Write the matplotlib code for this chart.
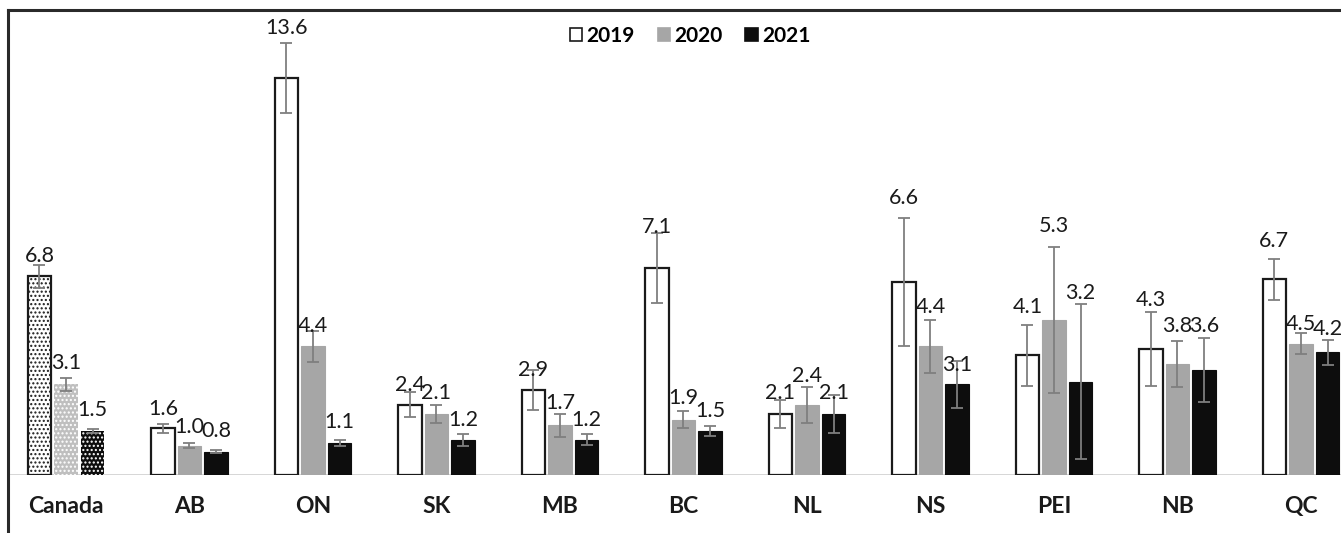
import numpy as np
import matplotlib
matplotlib.use("Agg")
import matplotlib.pyplot as plt
from matplotlib.patches import Patch
from matplotlib.lines import Line2D

plt.rcParams['font.family'] = ['Lato', 'DejaVu Sans']

# data
regions = ['Canada', 'AB', 'ON', 'SK', 'MB', 'BC', 'NL', 'NS', 'PEI', 'NB', 'QC']
years = ['2019', '2020', '2021']
vals_2019 = [6.8, 1.6, 13.6, 2.4, 2.9, 7.1, 2.1, 6.6, 4.1, 4.3, 6.7]
vals_2020 = [3.1, 1.0, 4.4, 2.1, 1.7, 1.9, 2.4, 4.4, 5.3, 3.8, 4.5]
vals_2021 = [1.5, 0.8, 1.1, 1.2, 1.2, 1.5, 2.1, 3.1, 3.2, 3.6, 4.2]
err_2019 = [0.4, 0.15, 1.2, 0.43, 0.68, 1.2, 0.48, 2.2, 1.05, 1.27, 0.7]
err_2020 = [0.22, 0.08, 0.53, 0.31, 0.4, 0.29, 0.62, 0.9, 2.5, 0.8, 0.37]
err_2021 = [0.06, 0.04, 0.1, 0.22, 0.19, 0.17, 0.65, 0.8, 2.65, 1.1, 0.43]

# where the value labels sit (baseline, in data units) - placed by hand in the original
lab_2019 = [7.29, 2.05, 15.1, 2.88, 3.39, 8.29, 2.6, 9.28, 5.55, 5.8, 7.8]
lab_2020 = [3.63, 1.44, 4.9, 2.6, 2.26, 2.43, 3.18, 5.55, 8.32, 4.9, 4.95]
lab_2021 = [2.02, 1.30, 1.6, 1.68, 1.68, 1.99, 2.6, 3.56, 6.03, 4.9, 4.8]

vals = [vals_2019, vals_2020, vals_2021]
errs = [err_2019, err_2020, err_2021]
labs = [lab_2019, lab_2020, lab_2021]
faces = ['white', '#a6a6a6', '#0d0d0d']
edges = ['#1a1a1a', '#a6a6a6', '#0d0d0d']
# Canada bars are dotted
can_faces = ['white', '#bfbfbf', '#0d0d0d']
can_hatch = ['#1a1a1a', 'white', 'white']

fig = plt.figure(figsize=(13.41, 5.33), dpi=100)
ax = fig.add_axes([10 / 1341, 58 / 533, 1 - 10 / 1341, 465 / 533])

x = np.arange(len(regions))
offs = [-0.215, 0.0, 0.215]
w = 0.19

for k in range(3):
    v = np.array(vals[k])
    xs = x + offs[k]
    # non-Canada bars
    ax.bar(xs[1:], v[1:], width=w, color=faces[k], edgecolor=edges[k],
           linewidth=1.6 if k == 0 else 0.8, zorder=2)
    # Canada bar with dot pattern
    ax.bar(xs[0], v[0], width=w, color=can_faces[k], edgecolor=can_hatch[k],
           hatch='....', linewidth=0, zorder=2)
    if k == 0:
        ax.bar(xs[0], v[0], width=w, color='none', edgecolor='#1a1a1a',
               linewidth=1.6, zorder=3)
    ax.errorbar(xs, v, yerr=errs[k], fmt='none', ecolor='#7f7f7f',
                elinewidth=1.3, capsize=4, capthick=1.3, zorder=4)
    for xi, vi, ly in zip(xs, v, labs[k]):
        ax.text(xi, ly, f'{vi:.1f}', ha='center', va='baseline',
                fontsize=15.5, color='#1a1a1a', zorder=5)

ax.axhline(0, color='#d0d0d0', linewidth=1.2, zorder=1)
ax.set_xlim(-0.453, 10.324)
ax.set_ylim(0, 15.92)
for s in ax.spines.values():
    s.set_visible(False)
ax.set_yticks([])
ax.set_xticks(x)
ax.set_xticklabels(regions, fontsize=16.5, fontweight='bold', color='#1a1a1a')
ax.tick_params(axis='x', length=0, pad=15)

handles = [Patch(facecolor=faces[k], edgecolor='#1a1a1a' if k == 0 else faces[k],
                 linewidth=1.2, label=years[k]) for k in range(3)]
fig.legend(handles=handles, loc='center', bbox_to_anchor=(690 / 1341, 1 - 36 / 533),
           ncol=3, frameon=False, prop={'weight': 'bold', 'size': 15},
           handlelength=0.6, handleheight=0.6, handletextpad=0.2,
           columnspacing=1.1)

# outer frame of the original picture (left and top edges)
fig.add_artist(Line2D([8 / 1341, 8 / 1341], [0, 1 - 10 / 533],
                      transform=fig.transFigure, color='#2a2a2a', linewidth=2.2))
fig.add_artist(Line2D([8 / 1341, 1], [1 - 10 / 533, 1 - 10 / 533],
                      transform=fig.transFigure, color='#2a2a2a', linewidth=2.2))

fig.savefig('out.png', dpi=100)
